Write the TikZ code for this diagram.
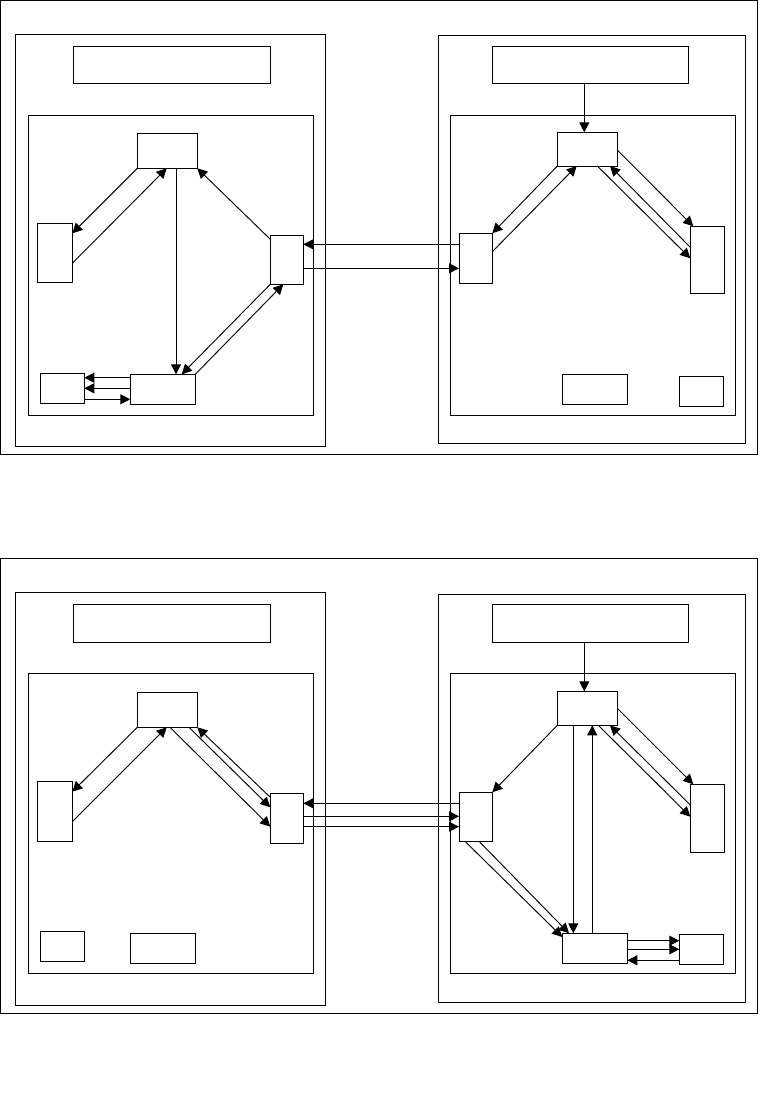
\documentclass[tikz,border=0pt]{standalone}
\usetikzlibrary{arrows.meta}
\tikzset{
  box/.style={draw, line width=0.75pt, inner sep=0pt, outer sep=0pt},
  arr/.style={line width=0.7pt, -{Triangle[length=7.5pt,width=7.5pt]}}
}
\newcommand\bx[5]{\node[box, minimum width={(#4-#2)*0.75pt}, minimum height={(#5-#3)*0.75pt}] (#1) at ({(#2+#4)/2},{(#3+#5)/2}) {};}
\begin{document}
\begin{tikzpicture}[x=0.75pt,y=-0.75pt]
\useasboundingbox (0,0) rectangle (760,1114);
% ===== top diagram =====
\bx{tO}{0.5}{0.5}{757}{454}
\bx{tLP}{15.3}{34.3}{325.3}{446}
\bx{tLT}{73.3}{46.3}{270.3}{83.3}
\bx{tLI}{28.3}{115.3}{313.3}{415.3}
\bx{tA}{137.3}{133.3}{197.3}{168.3}
\bx{tB}{37.3}{223.3}{72.3}{282.3}
\bx{tC}{270.3}{235.3}{303.3}{284.3}
\bx{tD}{130.3}{374.3}{195.3}{404.3}
\bx{tE}{40.3}{373.3}{84.3}{403.3}
\bx{tRP}{438.3}{35}{745.7}{443.3}
\bx{tRT}{492.3}{46.3}{688.3}{83.3}
\bx{tRI}{450.3}{115.3}{735.3}{415.3}
\bx{tG}{557.3}{132.3}{617.3}{166}
\bx{tF}{459}{233.3}{492.3}{283.3}
\bx{tH}{690.3}{226.3}{724.3}{293.3}
\bx{tI}{562.3}{374.3}{627.3}{404.3}
\bx{tJ}{679.3}{376.3}{723.3}{406.3}
% connectors top-left
\draw[arr] (tA.south west) -- (tB.east |- 0,233.3);
\draw[arr] (tB.east |- 0,263.3) -- (tA.south -| 166.7,0);
\draw[arr] (tA.south -| 176,0) -- (tD.north -| 176,0);
\draw[arr] (tC.west |- 0,239.3) -- (tA.south east);
\draw[arr] (tC.south west) -- (tD.north -| 181.7,0);
\draw[arr] (tD.north east) -- (tC.south -| 283.3,0);
\draw[arr] (tD.west |- 0,377.7) -- (tE.east |- 0,377.7);
\draw[arr] (tD.west |- 0,388.3) -- (tE.east |- 0,388.3);
\draw[arr] (tE.east |- 0,399.3) -- (tD.west |- 0,399.3);
\draw[arr] (tF.west |- 0,244.3) -- (tC.east |- 0,244.3);
\draw[arr] (tC.east |- 0,268.3) -- (tF.west |- 0,268.3);
% connectors top-right
\draw[arr] (tRT.south -| 584.3,0) -- (tG.north -| 584.3,0);
\draw[arr] (tG.south west) -- (tF.north east);
\draw[arr] (tF.east |- 0,251.7) -- (tG.south -| 576.7,0);
\draw[arr] (tG.east |- 0,150) -- (tH.north -| 693.3,0);
\draw[arr] (tH.west |- 0,247.3) -- (tG.south -| 610,0);
\draw[arr] (tG.south -| 597.3,0) -- (tH.west |- 0,258.3);
% ===== bottom diagram =====
\bx{bO}{0.5}{558.3}{757}{1013.3}
\bx{bLP}{15.3}{592.3}{325.3}{1005}
\bx{bLT}{73.3}{604.3}{270.3}{642.3}
\bx{bLI}{28.3}{673}{313.3}{973}
\bx{bA}{137.3}{692}{197.3}{727.3}
\bx{bB}{37.3}{781.3}{72.3}{841}
\bx{bC}{270.3}{793.3}{303.3}{843.3}
\bx{bE}{40.3}{931.3}{84.3}{961.3}
\bx{bD}{130.3}{933.3}{195.3}{963.3}
\bx{bRP}{438.3}{594.3}{745.7}{1002.3}
\bx{bRT}{492.3}{604.3}{688.3}{642.3}
\bx{bRI}{450.3}{673}{735.3}{973}
\bx{bG}{557.3}{691.3}{617.3}{725.3}
\bx{bF}{459}{792.3}{492.3}{841.3}
\bx{bH}{690.3}{784.3}{724.3}{852.3}
\bx{bI}{562.3}{933.3}{627.3}{963.3}
\bx{bJ}{679.3}{934.3}{723.3}{964.3}
% connectors bottom-left
\draw[arr] (bA.south west) -- (bB.east |- 0,791.7);
\draw[arr] (bB.east |- 0,821.7) -- (bA.south -| 166.7,0);
\draw[arr] (bA.south -| 170,0) -- (bC.west |- 0,826.7);
\draw[arr] (bA.south -| 189,0) -- (bC.west |- 0,807.3);
\draw[arr] (bC.west |- 0,797.3) -- (bA.south east);
\draw[arr] (bF.west |- 0,803.3) -- (bC.east |- 0,803.3);
\draw[arr] (bC.east |- 0,816.3) -- (bF.west |- 0,816.3);
\draw[arr] (bC.east |- 0,826.7) -- (bF.west |- 0,826.7);
% connectors bottom-right
\draw[arr] (bRT.south -| 584.3,0) -- (bG.north -| 584.3,0);
\draw[arr] (bG.south west) -- (bF.north east);
\draw[arr] (bG.south -| 573.3,0) -- (bI.north -| 573.3,0);
\draw[arr] (bI.north -| 592.3,0) -- (bG.south -| 592.3,0);
\draw[arr] (bG.east |- 0,708.3) -- (bH.north -| 693.3,0);
\draw[arr] (bH.west |- 0,805) -- (bG.south -| 610,0);
\draw[arr] (bG.south -| 598.3,0) -- (bH.west |- 0,816.7);
\draw[arr] (bF.south -| 465,0) -- (bI.west |- 0,937);
\draw[arr] (bF.south -| 479,0) -- (bI.north -| 569,0);
\draw[arr] (bI.east |- 0,940.7) -- (bJ.west |- 0,940.7);
\draw[arr] (bI.east |- 0,949.3) -- (bJ.west |- 0,949.3);
\draw[arr] (bJ.west |- 0,960.3) -- (bI.east |- 0,960.3);
\end{tikzpicture}
\end{document}
